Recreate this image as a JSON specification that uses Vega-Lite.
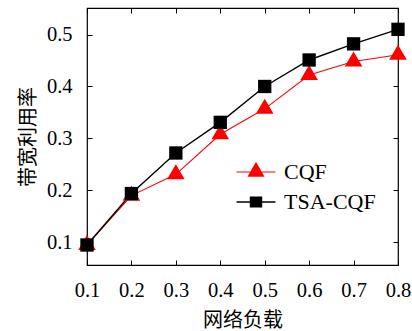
{
  "$schema": "https://vega.github.io/schema/vega-lite/v6.json",
  "width": 311,
  "height": 257,
  "autosize": "none",
  "padding": {"left": 87, "top": 8, "right": 14, "bottom": 66},
  "background": "white",
  "data": {
    "values": [
      {"load": 0.1, "series": "CQF", "util": 0.095},
      {"load": 0.2, "series": "CQF", "util": 0.19},
      {"load": 0.3, "series": "CQF", "util": 0.231},
      {"load": 0.4, "series": "CQF", "util": 0.308},
      {"load": 0.5, "series": "CQF", "util": 0.357},
      {"load": 0.6, "series": "CQF", "util": 0.422},
      {"load": 0.7, "series": "CQF", "util": 0.448},
      {"load": 0.8, "series": "CQF", "util": 0.461},
      {"load": 0.1, "series": "TSA-CQF", "util": 0.095},
      {"load": 0.2, "series": "TSA-CQF", "util": 0.194},
      {"load": 0.3, "series": "TSA-CQF", "util": 0.272},
      {"load": 0.4, "series": "TSA-CQF", "util": 0.331},
      {"load": 0.5, "series": "TSA-CQF", "util": 0.4},
      {"load": 0.6, "series": "TSA-CQF", "util": 0.451},
      {"load": 0.7, "series": "TSA-CQF", "util": 0.482},
      {"load": 0.8, "series": "TSA-CQF", "util": 0.51}
    ]
  },
  "config": {
    "view": {"stroke": "black", "strokeWidth": 1.2},
    "axis": {
      "domain": false,
      "grid": false,
      "tickColor": "black",
      "tickWidth": 1,
      "labelFlush": false,
      "labelFont": "Liberation Serif",
      "labelFontSize": 20.5,
      "labelColor": "black",
      "titleFont": "Noto Sans CJK SC",
      "titleFontSize": 20,
      "titleFontWeight": "normal",
      "titleColor": "black"
    },
    "legend": {
      "labelFont": "Liberation Serif",
      "labelFontSize": 22,
      "labelColor": "black"
    }
  },
  "resolve": {"axis": {"x": "independent", "y": "independent"}},
  "layer": [
    {
      "mark": {"type": "line"},
      "encoding": {
        "x": {
          "field": "load", "type": "quantitative",
          "scale": {"domain": [0.1, 0.8], "nice": false, "zero": false},
          "axis": {"values": [0.1, 0.2, 0.3, 0.4, 0.5, 0.6, 0.7, 0.8], "format": ".1f", "title": "网络负载", "ticks": false, "labelPadding": 15, "titlePadding": 10}
        },
        "y": {
          "field": "util", "type": "quantitative",
          "scale": {"domain": [0.0565, 0.551], "nice": false, "zero": false},
          "axis": {"values": [0.1, 0.2, 0.3, 0.4, 0.5], "format": ".1f", "title": "带宽利用率", "ticks": false, "labelPadding": 15, "titlePadding": 8}
        },
        "color": {
          "field": "series", "type": "nominal",
          "scale": {"domain": ["CQF", "TSA-CQF"], "range": ["#ff0000", "#000000"]},
          "legend": {
            "title": null,
            "orient": "none",
            "legendX": 158,
            "legendY": 153,
            "symbolSize": 400,
            "symbolStrokeWidth": 0,
            "labelOffset": 17,
            "rowPadding": 8,
            "encode": {
              "symbols": {
                "update": {
                  "shape": {"signal": "datum.value === 'CQF' ? 'M-1.95,-0.05H1.95V0.05H-1.95ZM0,-1.03L0.85,0.47L-0.85,0.47Z' : 'M-1.95,-0.065H1.95V0.065H-1.95ZM-0.62,-0.55H0.62V0.55H-0.62Z'"},
                  "opacity": {"value": 1}
                }
              }
            }
          }
        },
        "strokeWidth": {
          "field": "series", "type": "nominal",
          "scale": {"domain": ["TSA-CQF", "CQF"], "range": [1.4, 1.1]},
          "legend": null
        }
      }
    },
    {
      "mark": {"type": "point", "filled": true, "opacity": 1, "size": 324},
      "encoding": {
        "x": {"field": "load", "type": "quantitative", "axis": null},
        "y": {"field": "util", "type": "quantitative", "axis": null},
        "color": {
          "field": "series", "type": "nominal",
          "scale": {"domain": ["CQF", "TSA-CQF"], "range": ["#ff0000", "#000000"]}
        },
        "shape": {
          "field": "series", "type": "nominal",
          "scale": {"domain": ["TSA-CQF", "CQF"], "range": ["M-0.74,-0.74H0.74V0.74H-0.74Z", "M0,-1.11L0.98,0.56L-0.98,0.56Z"]},
          "legend": null
        }
      }
    },
    {
      "mark": {"type": "point", "opacity": 0},
      "encoding": {
        "x": {"field": "load", "type": "quantitative", "axis": {"orient": "bottom", "labels": false, "title": null, "ticks": true, "tickSize": -5, "values": [0.1, 0.2, 0.3, 0.4, 0.5, 0.6, 0.7, 0.8]}},
        "y": {"field": "util", "type": "quantitative", "axis": {"orient": "left", "labels": false, "title": null, "ticks": true, "tickSize": -5, "values": [0.1, 0.2, 0.3, 0.4, 0.5]}}
      }
    },
    {
      "mark": {"type": "point", "opacity": 0},
      "encoding": {
        "x": {"field": "load", "type": "quantitative", "axis": {"orient": "top", "labels": false, "title": null, "ticks": true, "tickSize": -5, "values": [0.1, 0.2, 0.3, 0.4, 0.5, 0.6, 0.7, 0.8]}},
        "y": {"field": "util", "type": "quantitative", "axis": {"orient": "right", "labels": false, "title": null, "ticks": true, "tickSize": -5, "values": [0.1, 0.2, 0.3, 0.4, 0.5]}}
      }
    }
  ]
}
